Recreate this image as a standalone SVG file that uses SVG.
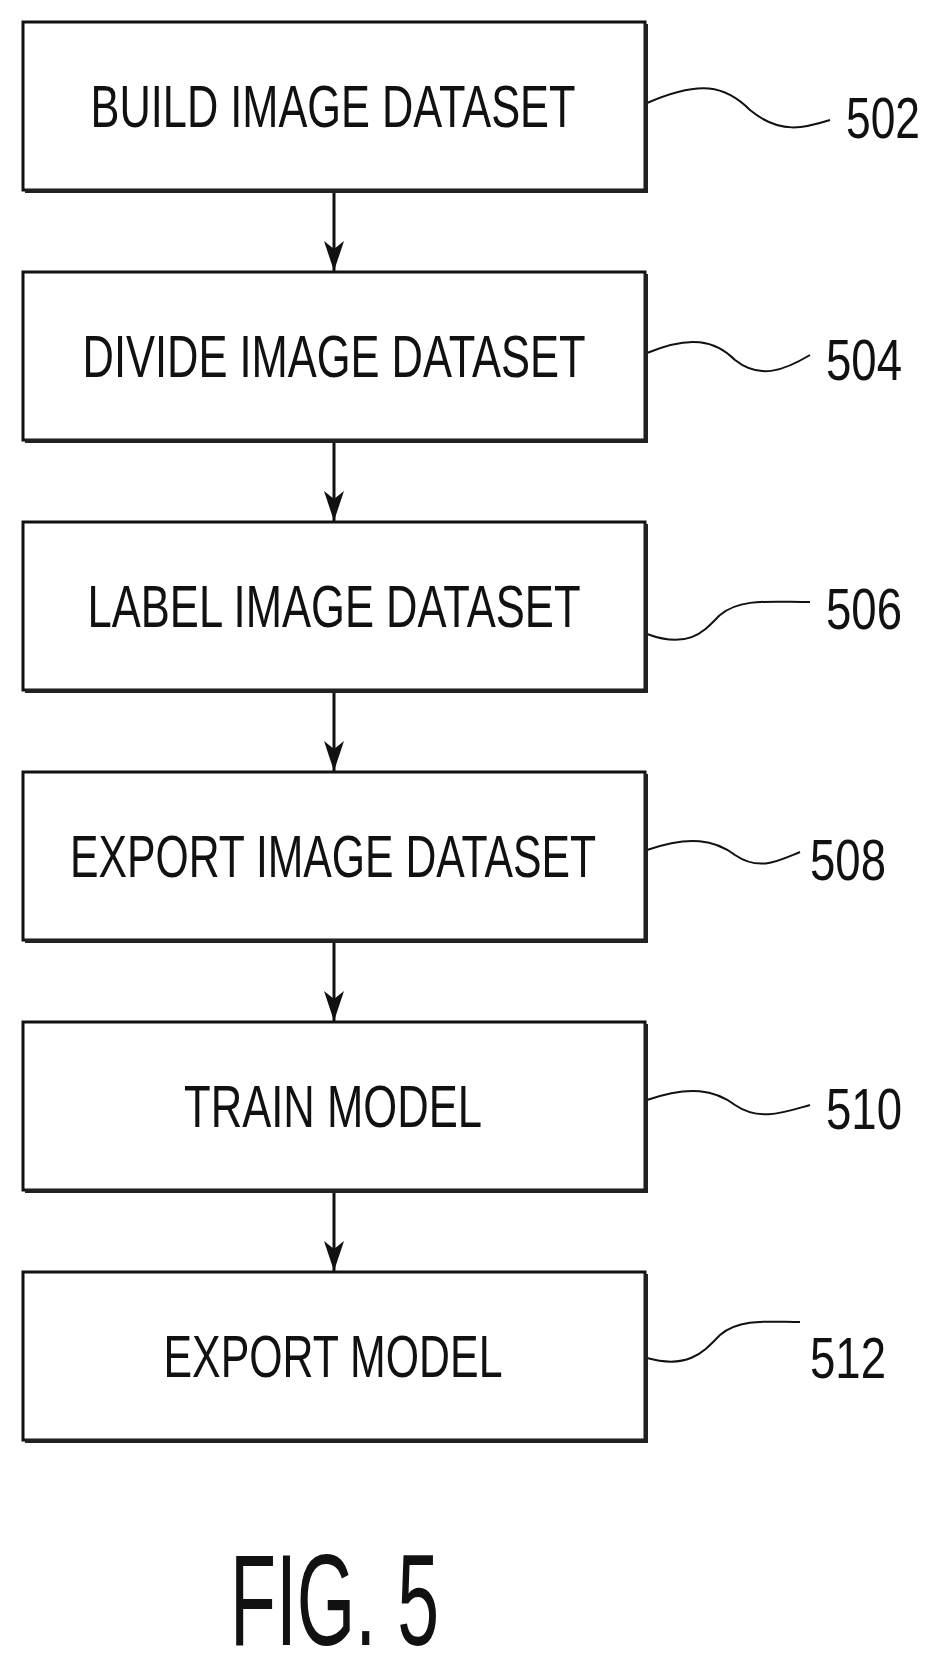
<svg xmlns="http://www.w3.org/2000/svg" width="944" height="1673" viewBox="0 0 944 1673">
<style>
.box{fill:#fff;stroke:#111;stroke-width:3}
.sh{stroke:#222;stroke-width:4;fill:none}
.t{font-family:"Liberation Sans",Arial,sans-serif;font-size:60px;fill:#111;text-anchor:middle}
.n{font-family:"Liberation Sans",Arial,sans-serif;font-size:58px;fill:#111}
.c{fill:none;stroke:#111;stroke-width:2}
.a{stroke:#111;stroke-width:3}
</style>
<defs><marker id="ah" markerWidth="30" markerHeight="20" refX="30" refY="10" orient="auto" markerUnits="userSpaceOnUse" viewBox="0 0 30 20"><path d="M0,0 L30,10 L0,20 L8,10 Z" fill="#111"/></marker></defs>
<rect width="944" height="1673" fill="#fff"/>
<g id="connectors">
<line class="a" x1="334" y1="192" x2="334" y2="271" marker-end="url(#ah)"/>
<line class="a" x1="334" y1="442" x2="334" y2="521" marker-end="url(#ah)"/>
<line class="a" x1="334" y1="692" x2="334" y2="771" marker-end="url(#ah)"/>
<line class="a" x1="334" y1="942" x2="334" y2="1021" marker-end="url(#ah)"/>
<line class="a" x1="334" y1="1192" x2="334" y2="1271" marker-end="url(#ah)"/>
<path class="c" d="M647,103 C700,80 725,85 750,110 C780,135 805,128 830,120"/>
<path class="c" d="M647,353 C690,335 715,340 735,360 C760,380 785,370 810,355"/>
<path class="c" d="M647,634 C690,650 705,630 720,615 C740,598 770,602 810,602"/>
<path class="c" d="M647,850 C690,835 715,840 735,855 C760,872 780,860 800,852"/>
<path class="c" d="M647,1100 C690,1085 715,1090 735,1105 C760,1122 785,1112 810,1105"/>
<path class="c" d="M647,1358 C690,1370 705,1350 720,1335 C740,1318 770,1322 800,1322"/>
</g>
<g id="n502"><rect class="box" x="23" y="22" width="622" height="168"/><path class="sh" d="M25,191 H646 V24"/><text class="t" x="333" y="127" textLength="485" lengthAdjust="spacingAndGlyphs">BUILD IMAGE DATASET</text><text class="n" x="846" y="138" textLength="74" lengthAdjust="spacingAndGlyphs">502</text></g>
<g id="n504"><rect class="box" x="23" y="272" width="622" height="168"/><path class="sh" d="M25,441 H646 V274"/><text class="t" x="334" y="377" textLength="503" lengthAdjust="spacingAndGlyphs">DIVIDE IMAGE DATASET</text><text class="n" x="826" y="380" textLength="76" lengthAdjust="spacingAndGlyphs">504</text></g>
<g id="n506"><rect class="box" x="23" y="522" width="622" height="168"/><path class="sh" d="M25,691 H646 V524"/><text class="t" x="334" y="627" textLength="493" lengthAdjust="spacingAndGlyphs">LABEL IMAGE DATASET</text><text class="n" x="826" y="629" textLength="76" lengthAdjust="spacingAndGlyphs">506</text></g>
<g id="n508"><rect class="box" x="23" y="772" width="622" height="168"/><path class="sh" d="M25,941 H646 V774"/><text class="t" x="333" y="877" textLength="526" lengthAdjust="spacingAndGlyphs">EXPORT IMAGE DATASET</text><text class="n" x="810" y="880" textLength="76" lengthAdjust="spacingAndGlyphs">508</text></g>
<g id="n510"><rect class="box" x="23" y="1022" width="622" height="168"/><path class="sh" d="M25,1191 H646 V1024"/><text class="t" x="333" y="1127" textLength="298" lengthAdjust="spacingAndGlyphs">TRAIN MODEL</text><text class="n" x="826" y="1129" textLength="76" lengthAdjust="spacingAndGlyphs">510</text></g>
<g id="n512"><rect class="box" x="23" y="1272" width="622" height="168"/><path class="sh" d="M25,1441 H646 V1274"/><text class="t" x="333" y="1377" textLength="339" lengthAdjust="spacingAndGlyphs">EXPORT MODEL</text><text class="n" x="810" y="1378" textLength="76" lengthAdjust="spacingAndGlyphs">512</text></g>
<text x="230" y="1645" font-family="Liberation Sans,Arial,sans-serif" font-size="130" fill="#111" textLength="209" lengthAdjust="spacingAndGlyphs">FIG. 5</text>
</svg>
